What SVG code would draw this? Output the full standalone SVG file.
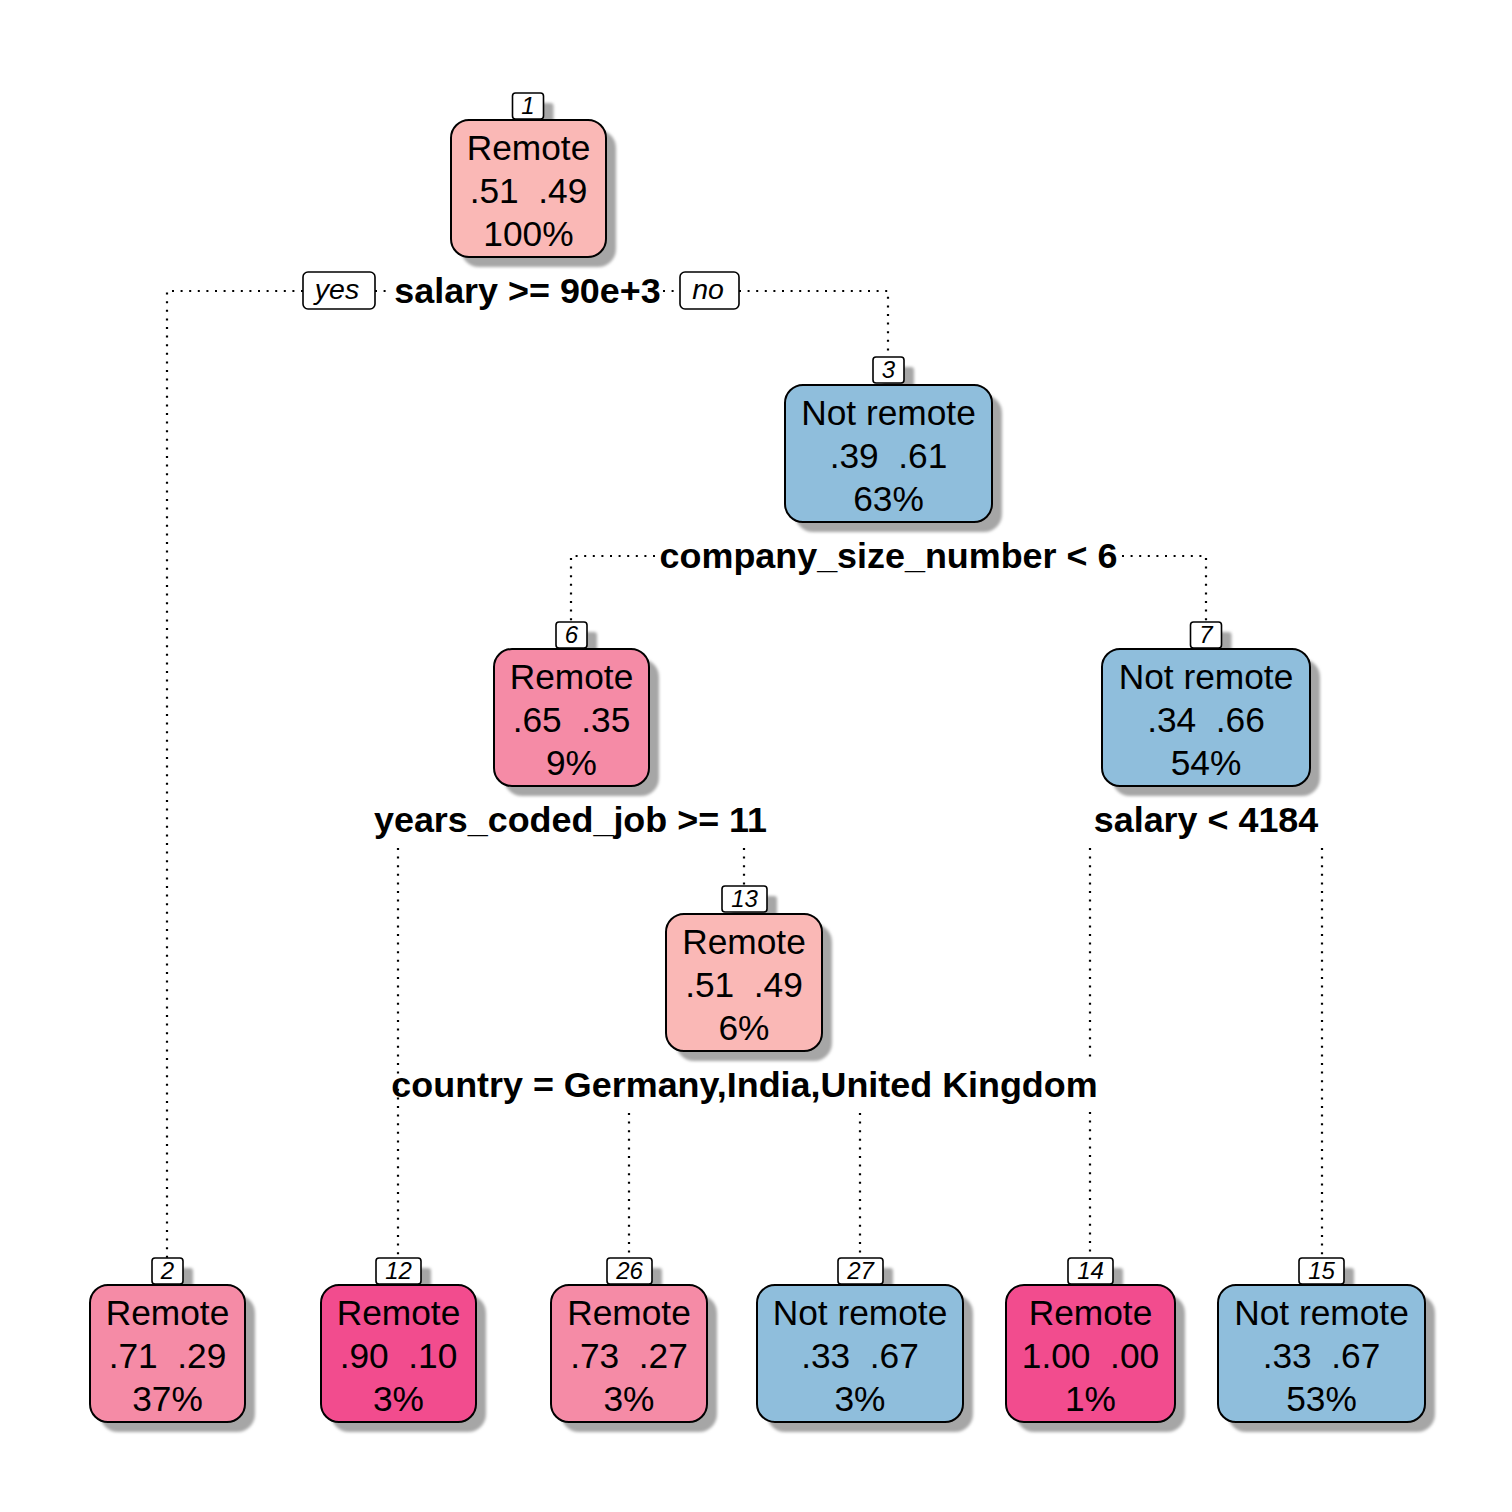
<svg xmlns="http://www.w3.org/2000/svg" width="1512" height="1512" viewBox="0 0 1512 1512">
<style>
.bg{fill:#fff}
.box{stroke:#000;stroke-width:2}
.lab{fill:#fff;stroke:#000;stroke-width:1.6}
.sh{fill:#a6a6a6;filter:url(#blur)}
.c1{fill:#FAB8B6}
.c2{fill:#F58BA6}
.c3{fill:#F24C8E}
.cb{fill:#8FBEDC}
text{font-family:"Liberation Sans",Arial,Helvetica,sans-serif;text-anchor:middle;fill:#000;white-space:pre}
.t{font-size:35.3px}
.num{font-size:24px;font-style:italic}
.split{font-size:35.9px;font-weight:bold}
.yn{font-size:28.5px;font-style:italic}
.conn{stroke:#000;stroke-width:2.2;stroke-dasharray:2 6.6;fill:none}
</style>
<defs>
<filter id="blur" x="-20%" y="-20%" width="140%" height="140%"><feGaussianBlur stdDeviation="1.8"/></filter>
</defs>
<rect class="bg" x="0" y="0" width="1512" height="1512"/>

<g id="connectors">
<path class="conn" d="M303 291 H167 V1258"/>
<path class="conn" d="M375 291 H392"/>
<path class="conn" d="M663 291 H680"/>
<path class="conn" d="M739 291 H888 V357"/>
<path class="conn" d="M655 556 H571 V622"/>
<path class="conn" d="M1122 556 H1206 V622"/>
<path class="conn" d="M398 848 V1258"/>
<path class="conn" d="M744 848 V886"/>
<path class="conn" d="M1090 848 V1058"/>
<path class="conn" d="M1090 1112 V1258"/>
<path class="conn" d="M1322 848 V1258"/>
<path class="conn" d="M629 1113 V1258"/>
<path class="conn" d="M860 1113 V1258"/>
</g>

<g id="split-labels">
<rect class="lab" x="303" y="272" width="72" height="37" rx="5"/>
<text class="yn" x="337" y="299">yes</text>
<text class="split" x="527.5" y="303">salary &gt;= 90e+3</text>
<rect class="lab" x="680" y="272" width="59" height="37" rx="5"/>
<text class="yn" x="708" y="299">no</text>
<text class="split" x="888.5" y="568">company_size_number &lt; 6</text>
<text class="split" x="570.5" y="832">years_coded_job &gt;= 11</text>
<text class="split" x="1206" y="832">salary &lt; 4184</text>
<text class="split" x="744.5" y="1097">country = Germany,India,United Kingdom</text>
</g>

<g id="node1">
<rect class="sh" x="461" y="130" width="155" height="137" rx="18"/>
<rect class="sh" x="522.5" y="103" width="31" height="26" rx="3"/>
<rect class="box c1" x="451" y="120" width="155" height="137" rx="18"/>
<rect class="lab" x="512.5" y="93" width="31" height="26" rx="3"/>
<text class="num" x="528" y="114">1</text>
<text class="t" x="528.5" y="159.5">Remote</text>
<text class="t" x="528.5" y="202.5" xml:space="preserve">.51  .49</text>
<text class="t" x="528.5" y="245.5">100%</text>
</g>

<g id="node3">
<rect class="sh" x="795" y="395" width="207" height="137" rx="18"/>
<rect class="sh" x="883" y="367" width="31" height="26" rx="3"/>
<rect class="box cb" x="785" y="385" width="207" height="137" rx="18"/>
<rect class="lab" x="873" y="357" width="31" height="26" rx="3"/>
<text class="num" x="888.5" y="378">3</text>
<text class="t" x="888.5" y="424.5">Not remote</text>
<text class="t" x="888.5" y="467.5" xml:space="preserve">.39  .61</text>
<text class="t" x="888.5" y="510.5">63%</text>
</g>

<g id="node6">
<rect class="sh" x="504" y="659" width="155" height="137" rx="18"/>
<rect class="sh" x="566" y="632" width="31" height="26" rx="3"/>
<rect class="box c2" x="494" y="649" width="155" height="137" rx="18"/>
<rect class="lab" x="556" y="622" width="31" height="26" rx="3"/>
<text class="num" x="571.5" y="643">6</text>
<text class="t" x="571.5" y="688.5">Remote</text>
<text class="t" x="571.5" y="731.5" xml:space="preserve">.65  .35</text>
<text class="t" x="571.5" y="774.5">9%</text>
</g>

<g id="node7">
<rect class="sh" x="1112" y="659" width="208" height="137" rx="18"/>
<rect class="sh" x="1200.5" y="632" width="31" height="26" rx="3"/>
<rect class="box cb" x="1102" y="649" width="208" height="137" rx="18"/>
<rect class="lab" x="1190.5" y="622" width="31" height="26" rx="3"/>
<text class="num" x="1206" y="643">7</text>
<text class="t" x="1206" y="688.5">Not remote</text>
<text class="t" x="1206" y="731.5" xml:space="preserve">.34  .66</text>
<text class="t" x="1206" y="774.5">54%</text>
</g>

<g id="node13">
<rect class="sh" x="676" y="924" width="156" height="137" rx="18"/>
<rect class="sh" x="732" y="896" width="45" height="26" rx="3"/>
<rect class="box c1" x="666" y="914" width="156" height="137" rx="18"/>
<rect class="lab" x="722" y="886" width="45" height="26" rx="3"/>
<text class="num" x="744.5" y="907">13</text>
<text class="t" x="744" y="953.5">Remote</text>
<text class="t" x="744" y="996.5" xml:space="preserve">.51  .49</text>
<text class="t" x="744" y="1039.5">6%</text>
</g>

<g id="node2">
<rect class="sh" x="100" y="1295" width="155" height="137" rx="18"/>
<rect class="sh" x="162" y="1268" width="31" height="26" rx="3"/>
<rect class="box c2" x="90" y="1285" width="155" height="137" rx="18"/>
<rect class="lab" x="152" y="1258" width="31" height="26" rx="3"/>
<text class="num" x="167.5" y="1279">2</text>
<text class="t" x="167.5" y="1324.5">Remote</text>
<text class="t" x="167.5" y="1367.5" xml:space="preserve">.71  .29</text>
<text class="t" x="167.5" y="1410.5">37%</text>
</g>

<g id="node12">
<rect class="sh" x="331" y="1295" width="155" height="137" rx="18"/>
<rect class="sh" x="386" y="1268" width="45" height="26" rx="3"/>
<rect class="box c3" x="321" y="1285" width="155" height="137" rx="18"/>
<rect class="lab" x="376" y="1258" width="45" height="26" rx="3"/>
<text class="num" x="398.5" y="1279">12</text>
<text class="t" x="398.5" y="1324.5">Remote</text>
<text class="t" x="398.5" y="1367.5" xml:space="preserve">.90  .10</text>
<text class="t" x="398.5" y="1410.5">3%</text>
</g>

<g id="node26">
<rect class="sh" x="561" y="1295" width="156" height="137" rx="18"/>
<rect class="sh" x="617" y="1268" width="45" height="26" rx="3"/>
<rect class="box c2" x="551" y="1285" width="156" height="137" rx="18"/>
<rect class="lab" x="607" y="1258" width="45" height="26" rx="3"/>
<text class="num" x="629.5" y="1279">26</text>
<text class="t" x="629" y="1324.5">Remote</text>
<text class="t" x="629" y="1367.5" xml:space="preserve">.73  .27</text>
<text class="t" x="629" y="1410.5">3%</text>
</g>

<g id="node27">
<rect class="sh" x="767" y="1295" width="206" height="137" rx="18"/>
<rect class="sh" x="848" y="1268" width="45" height="26" rx="3"/>
<rect class="box cb" x="757" y="1285" width="206" height="137" rx="18"/>
<rect class="lab" x="838" y="1258" width="45" height="26" rx="3"/>
<text class="num" x="860.5" y="1279">27</text>
<text class="t" x="860" y="1324.5">Not remote</text>
<text class="t" x="860" y="1367.5" xml:space="preserve">.33  .67</text>
<text class="t" x="860" y="1410.5">3%</text>
</g>

<g id="node14">
<rect class="sh" x="1016" y="1295" width="169" height="137" rx="18"/>
<rect class="sh" x="1078" y="1268" width="45" height="26" rx="3"/>
<rect class="box c3" x="1006" y="1285" width="169" height="137" rx="18"/>
<rect class="lab" x="1068" y="1258" width="45" height="26" rx="3"/>
<text class="num" x="1090.5" y="1279">14</text>
<text class="t" x="1090.5" y="1324.5">Remote</text>
<text class="t" x="1090.5" y="1367.5" xml:space="preserve">1.00  .00</text>
<text class="t" x="1090.5" y="1410.5">1%</text>
</g>

<g id="node15">
<rect class="sh" x="1228" y="1295" width="207" height="137" rx="18"/>
<rect class="sh" x="1309" y="1268" width="45" height="26" rx="3"/>
<rect class="box cb" x="1218" y="1285" width="207" height="137" rx="18"/>
<rect class="lab" x="1299" y="1258" width="45" height="26" rx="3"/>
<text class="num" x="1321.5" y="1279">15</text>
<text class="t" x="1321.5" y="1324.5">Not remote</text>
<text class="t" x="1321.5" y="1367.5" xml:space="preserve">.33  .67</text>
<text class="t" x="1321.5" y="1410.5">53%</text>
</g>
</svg>
